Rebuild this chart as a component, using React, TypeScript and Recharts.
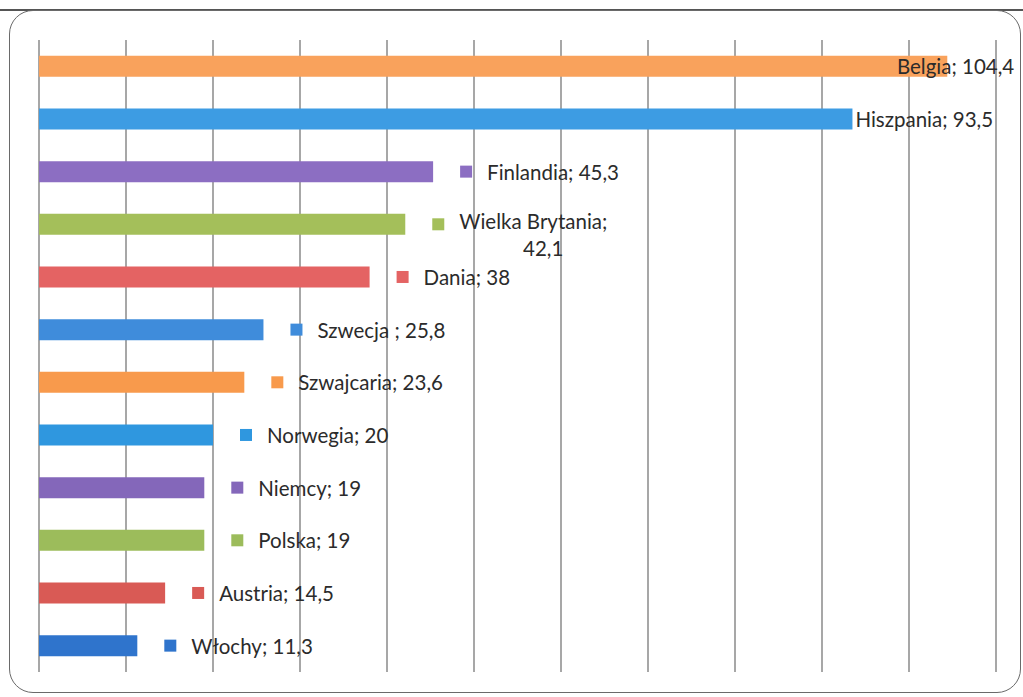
import { Bar, BarChart, CartesianGrid, Cell, LabelList, XAxis, YAxis } from "recharts";

const countries = [
  "Belgia",
  "Hiszpania",
  "Finlandia",
  "Wielka Brytania",
  "Dania",
  "Szwecja ",
  "Szwajcaria",
  "Norwegia",
  "Niemcy",
  "Polska",
  "Austria",
  "Włochy",
];
const values = [104.4, 93.5, 45.3, 42.1, 38, 25.8, 23.6, 20, 19, 19, 14.5, 11.3];
const xTicks = [0, 10, 20, 30, 40, 50, 60, 70, 80, 90, 100, 110];

const palette = [
  "#F9A25C",
  "#3D9CE3",
  "#8C6EC2",
  "#A4BF5A",
  "#E46363",
  "#3F8CDB",
  "#F89A4C",
  "#2F97DF",
  "#8467BA",
  "#9CBC5B",
  "#D95A55",
  "#2F74CC",
];

const data = countries.map((name, i) => ({ name, value: values[i] }));

const fmt = (v: number) => String(v).replace(".", ",");
const FONT = "Lato, 'Open Sans', sans-serif";
const TEXT = "#2b2b2b";
const FS = 20.5;

function BarLabel(props: any) {
  const { x, y, width, height, index } = props;
  const d = data[index];
  const end = Number(x) + Number(width);
  const cy = Number(y) + Number(height) / 2;
  const text = `${d.name}; ${fmt(d.value)}`;

  if (index === 0) {
    return (
      <text x={end + 67} y={cy} textAnchor="end" dominantBaseline="central" fontSize={FS} fontFamily={FONT} fill={TEXT}>
        {text}
      </text>
    );
  }
  if (index === 1) {
    return (
      <text x={end + 3} y={cy} dominantBaseline="central" fontSize={FS} fontFamily={FONT} fill={TEXT}>
        {text}
      </text>
    );
  }
  const key = (
    <rect x={end + 27} y={cy - 6} width={12} height={12} fill={palette[index]} />
  );
  if (d.name === "Wielka Brytania") {
    return (
      <g>
        {key}
        <text x={end + 54} y={cy - 3} dominantBaseline="central" fontSize={FS} fontFamily={FONT} fill={TEXT}>
          {`${d.name};`}
        </text>
        <text x={end + 138} y={cy + 24} textAnchor="middle" dominantBaseline="central" fontSize={FS} fontFamily={FONT} fill={TEXT}>
          {fmt(d.value)}
        </text>
      </g>
    );
  }
  return (
    <g>
      {key}
      <text x={end + 54} y={cy} dominantBaseline="central" fontSize={FS} fontFamily={FONT} fill={TEXT}>
        {text}
      </text>
    </g>
  );
}

export default function App() {
  return (
    <div style={{ position: "absolute", left: 0, top: 0, width: 1023, height: 697, background: "#fff" }}>
      <div style={{ position: "absolute", left: 0, top: 9, width: 1023, height: 2, background: "#555" }} />
      <div
        style={{
          position: "absolute",
          left: 9,
          top: 10,
          width: 1010,
          height: 681,
          border: "1.5px solid #6a6a6a",
          borderRadius: 24,
        }}
      />
      <div style={{ position: "absolute", left: 0, top: 0 }}>
        <BarChart
          width={1023}
          height={697}
          data={data}
          layout="vertical"
          margin={{ top: 40, right: 27, bottom: 25, left: 39 }}
          barCategoryGap="30%"
        >
          <CartesianGrid horizontal={false} stroke="#8a8a8a" strokeWidth={1.5} />
          <XAxis type="number" domain={[0, 110]} ticks={xTicks} hide />
          <YAxis type="category" dataKey="name" hide />
          <Bar dataKey="value" isAnimationActive={false}>
            {data.map((d, i) => (
              <Cell key={d.name} fill={palette[i]} />
            ))}
            <LabelList dataKey="value" content={BarLabel} />
          </Bar>
        </BarChart>
      </div>
    </div>
  );
}
